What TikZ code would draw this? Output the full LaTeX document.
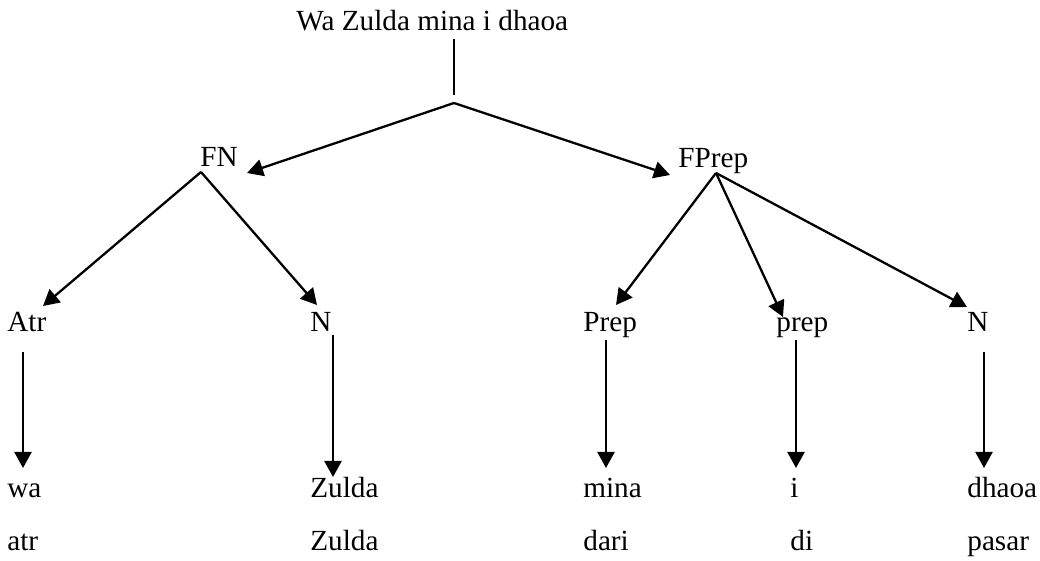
\documentclass[tikz,border=0pt]{standalone}
\usepackage{fontspec}
\setmainfont{Liberation Serif}
\usetikzlibrary{arrows.meta}
\tikzset{
  catnode/.style={
    inner sep=0pt,
    anchor=base west,
    font=\fontsize{14.6pt}{16pt}\selectfont
  },
  branch/.style={-{Triangle[length=8pt,width=8.5pt]}, line width=1.15pt},
  stem/.style={line width=0.7pt}
}

\begin{document}
\begin{tikzpicture}[x=0.5pt, y=-0.5pt]
  \useasboundingbox (0,0) rectangle (1040,561);

  \node[catnode] (title) at (296,31) {Wa Zulda mina i dhaoa};
  \coordinate (split) at (454,103);

  \node[catnode] (fn) at (200,167) {FN};
  \node[catnode] (fprep) at (678,168) {FPrep};

  \node[catnode] (atr) at (7,332) {Atr};
  \node[catnode] (nfn) at (310,332) {N};
  \node[catnode] (prepa) at (583,332) {Prep};
  \node[catnode] (prepb) at (776,332) {prep};
  \node[catnode] (nprep) at (967,332) {N};

  \node[catnode] (wa) at (7,498) {wa};
  \node[catnode] (zulda) at (310,498) {Zulda};
  \node[catnode] (mina) at (583,498) {mina};
  \node[catnode] (iword) at (790,498) {i};
  \node[catnode] (dhaoa) at (967,498) {dhaoa};

  \node[catnode] (glatr) at (7,551) {atr};
  \node[catnode] (glzulda) at (310,551) {Zulda};
  \node[catnode] (gldari) at (583,551) {dari};
  \node[catnode] (gldi) at (790,551) {di};
  \node[catnode] (glpasar) at (967,551) {pasar};

  % feet of the two phrase labels
  \coordinate (fnfoot) at ([xshift=0.5pt,yshift=-2.5pt]fn.base west);
  \coordinate (fprepfoot) at ([xshift=19pt,yshift=-2.5pt]fprep.base west);

  \draw[stem] ([xshift=79pt,yshift=-4pt]title.base west) -- ([yshift=4pt]split);
  \draw[branch] (split) -- ([xshift=23.5pt,yshift=-3pt]fn.base west);
  \draw[branch] (split) -- ([xshift=-4pt,yshift=-3.5pt]fprep.base west);

  \draw[branch] (fnfoot) -- ([xshift=18pt,yshift=13pt]atr.base west);
  \draw[branch] (fnfoot) -- ([xshift=3.5pt,yshift=13.5pt]nfn.base west);

  \draw[branch] (fprepfoot) -- ([xshift=16.5pt,yshift=13.5pt]prepa.base west);
  \draw[branch] (fprepfoot) -- ([xshift=3.5pt,yshift=7.5pt]prepb.base west);
  \draw[branch] (fprepfoot) -- ([yshift=12.5pt]nprep.base west);

  % lexical stems
  \draw[branch] ([xshift=8pt,yshift=-10pt]atr.base west) -- ([xshift=8pt,yshift=15pt]wa.base west);
  \draw[branch] ([xshift=11.5pt,yshift=-1.5pt]nfn.base west) -- ([xshift=11.5pt,yshift=10.5pt]zulda.base west);
  \draw[branch] ([xshift=11.5pt,yshift=-4pt]prepa.base west) -- ([xshift=11.5pt,yshift=15pt]mina.base west);
  \draw[branch] ([xshift=10pt,yshift=-4pt]prepb.base west) -- ([xshift=3pt,yshift=15pt]iword.base west);
  \draw[branch] ([xshift=8.5pt,yshift=-10pt]nprep.base west) -- ([xshift=8.5pt,yshift=15pt]dhaoa.base west);
\end{tikzpicture}
\end{document}
